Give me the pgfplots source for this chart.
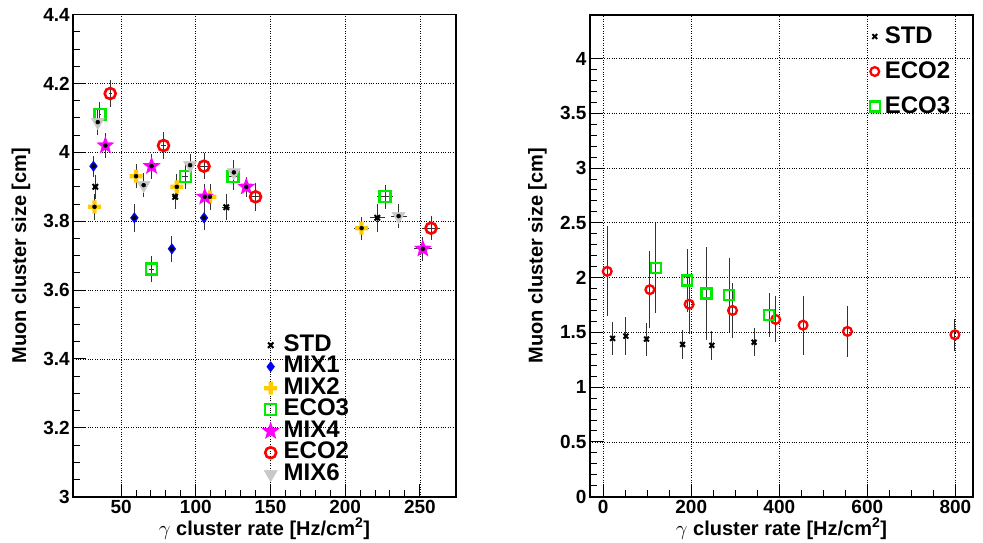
\documentclass[border=0pt]{standalone}
\usepackage{pgfplots}
\usepackage{pgfplotstable}
\pgfplotsset{compat=1.18}
\usepackage{fontspec}
\setmainfont{Liberation Sans}
\usetikzlibrary{plotmarks}

\definecolor{cyel}{RGB}{255,204,0}
\definecolor{cgreen}{RGB}{0,235,0}
\definecolor{cgray}{RGB}{200,200,200}
\definecolor{cmag}{RGB}{255,0,255}
\definecolor{cblue}{RGB}{0,0,255}
\definecolor{cred}{RGB}{255,0,0}

\pgfdeclareplotmark{fstar}{%
  \pgfpathmoveto{\pgfpointpolar{90}{\pgfplotmarksize}}%
  \pgfpathlineto{\pgfpointpolar{126}{0.42\pgfplotmarksize}}%
  \pgfpathlineto{\pgfpointpolar{162}{\pgfplotmarksize}}%
  \pgfpathlineto{\pgfpointpolar{198}{0.42\pgfplotmarksize}}%
  \pgfpathlineto{\pgfpointpolar{234}{\pgfplotmarksize}}%
  \pgfpathlineto{\pgfpointpolar{270}{0.42\pgfplotmarksize}}%
  \pgfpathlineto{\pgfpointpolar{306}{\pgfplotmarksize}}%
  \pgfpathlineto{\pgfpointpolar{342}{0.42\pgfplotmarksize}}%
  \pgfpathlineto{\pgfpointpolar{18}{\pgfplotmarksize}}%
  \pgfpathlineto{\pgfpointpolar{54}{0.42\pgfplotmarksize}}%
  \pgfpathclose\pgfusepathqfill}

\pgfdeclareplotmark{fplus}{%
  \pgfpathrectangle{\pgfpoint{-\pgfplotmarksize}{-0.33\pgfplotmarksize}}{\pgfpoint{2\pgfplotmarksize}{0.66\pgfplotmarksize}}%
  \pgfpathrectangle{\pgfpoint{-0.33\pgfplotmarksize}{-\pgfplotmarksize}}{\pgfpoint{0.66\pgfplotmarksize}{2\pgfplotmarksize}}%
  \pgfusepathqfill}

% ---- left panel data: x, y, x error, y error ----
\pgfplotstableread{
x y ex ey
32.7 3.900 0.8 0.035
86.2 3.871 2.0 0.034
120.4 3.841 2.8 0.038
221.5 3.810 5.1 0.040
}\lSTD
\pgfplotstableread{
x y ex ey
31.5 3.960 0.7 0.030
58.9 3.810 1.4 0.040
84.0 3.720 1.9 0.037
105.5 3.810 2.4 0.035
}\lMIXa
\pgfplotstableread{
x y ex ey
32.2 3.842 0.8 0.038
60.0 3.931 1.4 0.035
87.3 3.900 2.0 0.036
109.5 3.871 2.5 0.037
211.0 3.780 4.9 0.033
}\lMIXb
\pgfplotstableread{
x y ex ey
35.8 4.111 0.8 0.036
70.2 3.661 1.6 0.038
93.0 3.931 2.1 0.036
125.0 3.931 2.9 0.041
226.7 3.871 5.2 0.035
}\lECOc
\pgfplotstableread{
x y ex ey
39.5 4.020 0.9 0.037
70.4 3.960 1.6 0.036
106.0 3.871 2.4 0.036
133.8 3.900 3.1 0.030
252.0 3.720 5.8 0.035
}\lMIXd
\pgfplotstableread{
x y ex ey
42.7 4.171 1.0 0.038
78.4 4.020 1.8 0.039
105.5 3.960 2.4 0.037
140.0 3.871 3.2 0.041
257.5 3.780 5.9 0.035
}\lECOb
\pgfplotstableread{
x y ex ey
34.4 4.088 0.8 0.036
65.1 3.905 1.5 0.035
96.2 3.963 2.2 0.032
125.5 3.942 2.9 0.035
235.8 3.815 5.4 0.035
}\lMIXf
% ---- right panel data ----
\pgfplotstableread{
x y ex ey
21.3 1.445 0 0.150
51.5 1.466 0 0.170
98.5 1.439 0 0.150
180.2 1.390 0 0.130
246.8 1.382 0 0.130
342.8 1.410 0 0.130
}\rSTD
\pgfplotstableread{
x y ex ey
9.1 2.057 0 0.410
106.0 1.890 0 0.350
195.2 1.757 0 0.270
293.7 1.700 0 0.250
391.8 1.618 0 0.210
454.0 1.566 0 0.270
554.8 1.509 0 0.230
799.0 1.478 0 0.145
}\rECOb
\pgfplotstableread{
x y ex ey
119.6 2.088 0 0.410
190.7 1.975 0 0.290
234.7 1.855 0 0.420
286.0 1.840 0 0.340
376.9 1.657 0 0.200
}\rECOc

\pgfplotsset{
  rootaxis/.style={
    scale only axis,
    axis line style={line width=1.6pt},
    tick align=inside,
    tick pos=left,
    grid=major,
    major grid style={dotted, black, line width=0.7pt},
    major tick length=13pt,
    minor tick length=6.5pt,
    every tick/.style={black, line width=1pt},
    tick label style={font=\fontsize{19}{21}\selectfont\bfseries},
    label style={font=\fontsize{20}{22}\selectfont\bfseries},
    /pgf/number format/assume math mode=true,
    ylabel style={at={(axis description cs:-0.137,0.5)}, anchor=center},
    xlabel style={at={(axis description cs:0.5,-0.066)}, anchor=center},
    xlabel={$\gamma$ cluster rate [Hz/cm\textsuperscript{2}]},
    ylabel={Muon cluster size [cm]},
    legend cell align=left,
  },
  eb/.style={only marks,
    error bars/x dir=both, error bars/x explicit,
    error bars/y dir=both, error bars/y explicit,
    error bars/error mark=none,
    error bars/error bar style={draw=black!80, line width=0.9pt}},
  ebonly/.style={eb, mark=none, forget plot},
}

\begin{document}
\begin{tikzpicture}[x=1pt,y=1pt]
% ---------------- left panel ----------------
\begin{axis}[rootaxis,
  at={(73.3pt,45.3pt)}, anchor=south west,
  width=382.4pt, height=482pt,
  xmin=18, xmax=274, ymin=3, ymax=4.4,
  xtick={50,100,150,200,250},
  ytick={3,3.2,3.4,3.6,3.8,4,4.2,4.4},
  minor x tick num=4, minor y tick num=3,
  legend style={draw=none, fill=none, inner sep=0pt,
    at={(0.492,0.337)}, anchor=north west,
    font=\fontsize{24}{26}\selectfont\bfseries,
    nodes={inner sep=1pt, text height=16pt, text depth=3.5pt},
    row sep=0pt,
    /tikz/every odd column/.append style={column sep=3pt}},
]
\addplot[eb, mark=x, mark size=3.8pt, mark options={black, line width=2pt}]
  table[x=x, y=y, x error=ex, y error=ey] {\lSTD};
\addlegendentry{STD}
\addplot[eb, mark=diamond*, mark size=5.2pt, mark options={cblue, fill=cblue}]
  table[x=x, y=y, x error=ex, y error=ey] {\lMIXa};
\addlegendentry{MIX1}
\addplot[eb, mark=fplus, mark size=6.5pt, mark options={cyel, fill=cyel}]
  table[x=x, y=y, x error=ex, y error=ey] {\lMIXb};
\addlegendentry{MIX2}
\addplot[eb, mark=square, mark size=5.5pt, mark options={cgreen, line width=2.3pt}]
  table[x=x, y=y, x error=ex, y error=ey] {\lECOc};
\addlegendentry{ECO3}
\addplot[eb, mark=fstar, mark size=9.5pt, mark options={cmag, fill=cmag}]
  table[x=x, y=y, x error=ex, y error=ey] {\lMIXd};
\addlegendentry{MIX4}
\addplot[eb, mark=o, mark size=5.5pt, mark options={cred, line width=2.6pt}]
  table[x=x, y=y, x error=ex, y error=ey] {\lECOb};
\addlegendentry{ECO2}
\addplot[eb, mark=triangle*, mark size=7.6pt, mark options={cgray, fill=cgray, rotate=180}]
  table[x=x, y=y, x error=ex, y error=ey] {\lMIXf};
\addlegendentry{MIX6}
% error bars drawn again over the filled markers
\addplot[ebonly] table[x=x, y=y, x error=ex, y error=ey] {\lSTD};
\addplot[ebonly] table[x=x, y=y, x error=ex, y error=ey] {\lMIXa};
\addplot[ebonly] table[x=x, y=y, x error=ex, y error=ey] {\lMIXb};
\addplot[ebonly] table[x=x, y=y, x error=ex, y error=ey] {\lMIXd};
\addplot[ebonly] table[x=x, y=y, x error=ex, y error=ey] {\lMIXf};
\end{axis}

% ---------------- right panel ----------------
\begin{axis}[rootaxis,
  at={(590pt,45.3pt)}, anchor=south west,
  width=383pt, height=482pt,
  xmin=-30, xmax=840, ymin=0, ymax=4.4,
  xtick={0,200,400,600,800},
  ytick={0,0.5,1,1.5,2,2.5,3,3.5,4},
  minor x tick num=3, minor y tick num=4,
  legend style={draw=none, fill=none, inner sep=0pt,
    at={(0.73,0.979)}, anchor=north west,
    font=\fontsize{24}{26}\selectfont\bfseries,
    nodes={inner sep=1pt, text height=17pt, text depth=4pt},
    row sep=12pt,
    /tikz/every odd column/.append style={column sep=4pt}},
]
\addplot[eb, mark=x, mark size=3.4pt, mark options={black, line width=2pt}]
  table[x=x, y=y, x error=ex, y error=ey] {\rSTD};
\addlegendentry{STD}
\addplot[eb, mark=o, mark size=4.4pt, mark options={cred, line width=2.3pt}]
  table[x=x, y=y, x error=ex, y error=ey] {\rECOb};
\addlegendentry{ECO2}
\addplot[eb, mark=square, mark size=5pt, mark options={cgreen, line width=2.3pt}]
  table[x=x, y=y, x error=ex, y error=ey] {\rECOc};
\addlegendentry{ECO3}
\end{axis}
\pgfresetboundingbox
\useasboundingbox (0,0) rectangle (983,542);
\end{tikzpicture}
\end{document}
